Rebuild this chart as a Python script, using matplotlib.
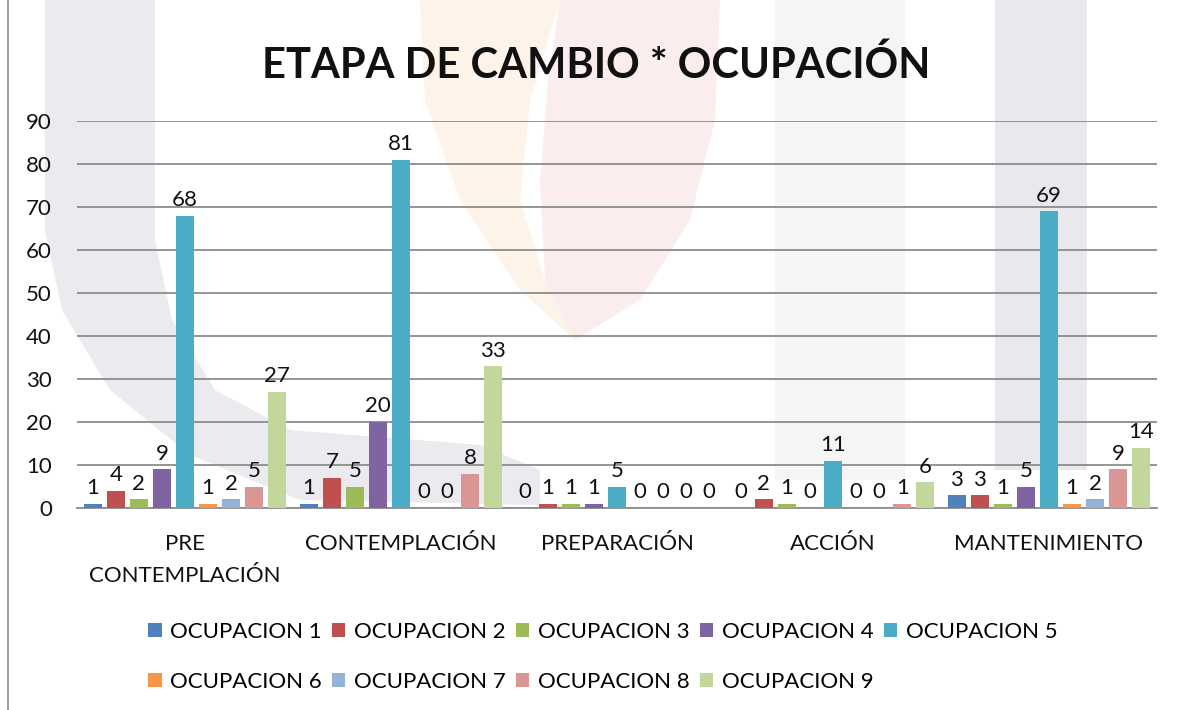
import matplotlib
matplotlib.use('Agg')
import matplotlib.pyplot as plt
import numpy as np
from matplotlib.patches import Polygon
from matplotlib.lines import Line2D

# categorias (etapa de cambio) y series (ocupacion)
etapas = ['PRE\nCONTEMPLACIÓN', 'CONTEMPLACIÓN', 'PREPARACIÓN', 'ACCIÓN', 'MANTENIMIENTO']
ocupaciones = ['OCUPACION 1', 'OCUPACION 2', 'OCUPACION 3', 'OCUPACION 4', 'OCUPACION 5',
               'OCUPACION 6', 'OCUPACION 7', 'OCUPACION 8', 'OCUPACION 9']
ocup1 = [1, 1, 0, 0, 3]
ocup2 = [4, 7, 1, 2, 3]
ocup3 = [2, 5, 1, 1, 1]
ocup4 = [9, 20, 1, 0, 5]
ocup5 = [68, 81, 5, 11, 69]
ocup6 = [1, 0, 0, 0, 1]
ocup7 = [2, 0, 0, 0, 2]
ocup8 = [5, 8, 0, 1, 9]
ocup9 = [27, 33, 0, 6, 14]
series = [ocup1, ocup2, ocup3, ocup4, ocup5, ocup6, ocup7, ocup8, ocup9]
colores = ['#4F81BD', '#C0504D', '#9BBB59', '#8064A2', '#4BACC6',
           '#F79646', '#95B3D7', '#D99694', '#C3D69B']
yticks = [0, 10, 20, 30, 40, 50, 60, 70, 80, 90]

plt.rcParams['font.family'] = ['Lato', 'DejaVu Sans']

W, H = 1181, 710
fig = plt.figure(figsize=(W / 100, H / 100), dpi=100)
fig.patch.set_facecolor('white')


def fx(x):
    return x / W


def fy(y):
    return 1 - y / H


def mancha(pts, color):
    '''faint watermark shape, pts in pixel coords'''
    p = Polygon([(fx(a), fy(b)) for a, b in pts], closed=True,
                facecolor=color, edgecolor='none', transform=fig.transFigure, zorder=0)
    fig.add_artist(p)


# marca de agua (logo tenue)
mancha([(45, 0), (155, 0), (155, 240), (172, 320), (215, 390), (290, 430), (480, 445),
        (540, 470), (540, 505), (300, 500), (190, 455), (110, 390), (62, 310), (45, 230)], '#eaeaef')
mancha([(420, 0), (560, 0), (530, 100), (520, 200), (545, 280), (575, 340), (520, 290),
        (460, 200), (425, 100)], '#fdf3e8')
mancha([(560, 0), (720, 0), (715, 120), (690, 220), (640, 300), (575, 340), (545, 280),
        (540, 180), (548, 80)], '#fbeded')
mancha([(775, 0), (905, 0), (905, 480), (775, 480)], '#f5f5f7')
mancha([(995, 0), (1087, 0), (1087, 470), (995, 470)], '#e8e8ed')

ax = fig.add_axes([fx(77), fy(508), fx(1157) - fx(77), fy(121) - fy(508)])
ax.set_facecolor('none')
ax.set_zorder(1)

x = np.arange(len(etapas))
paso = 0.1067
ancho = 0.085
barras = []
for i, (vals, col) in enumerate(zip(series, colores)):
    b = ax.bar(x + (i - 4) * paso, vals, ancho, color=col, label=ocupaciones[i], zorder=3)
    ax.bar_label(b, labels=[str(v) for v in vals], padding=4, fontsize=16, color='#111111')
    barras.append(b)

ax.set_xlim(-0.5, len(etapas) - 0.5)
ax.set_ylim(0, 90)
ax.set_yticks(yticks)
ax.yaxis.grid(True, color='#8c8c8c', linewidth=1.3, zorder=1)
ax.set_axisbelow(True)
for s in ['left', 'right', 'top']:
    ax.spines[s].set_visible(False)
ax.spines['bottom'].set_color('#8c8c8c')
ax.spines['bottom'].set_linewidth(1.3)
ax.tick_params(axis='y', length=0, pad=18, labelsize=16, labelcolor='#111111')
ax.tick_params(axis='x', length=0, pad=19, labelsize=16, labelcolor='#111111')
ax.set_xticks(x)
ax.set_xticklabels(etapas, linespacing=1.75)

fig.text(fx(596), fy(78), 'ETAPA DE CAMBIO * OCUPACIÓN', ha='center', va='baseline',
         fontsize=30, fontweight='bold', color='#111111')

# leyenda en dos filas, orden por filas
orden = [0, 5, 1, 6, 2, 7, 3, 8, 4]
fig.legend([barras[k] for k in orden], [ocupaciones[k] for k in orden],
           loc='center', bbox_to_anchor=(fx(603), fy(657)), ncol=5, frameon=False,
           fontsize=16, handlelength=0.6, handleheight=0.6, handletextpad=0.4,
           columnspacing=0.45, labelspacing=1.35)

fig.add_artist(Line2D([fx(8), fx(8)], [0, 1], color='#8c8c8c', linewidth=1.2,
                      transform=fig.transFigure))

fig.savefig('out.png', dpi=100)
